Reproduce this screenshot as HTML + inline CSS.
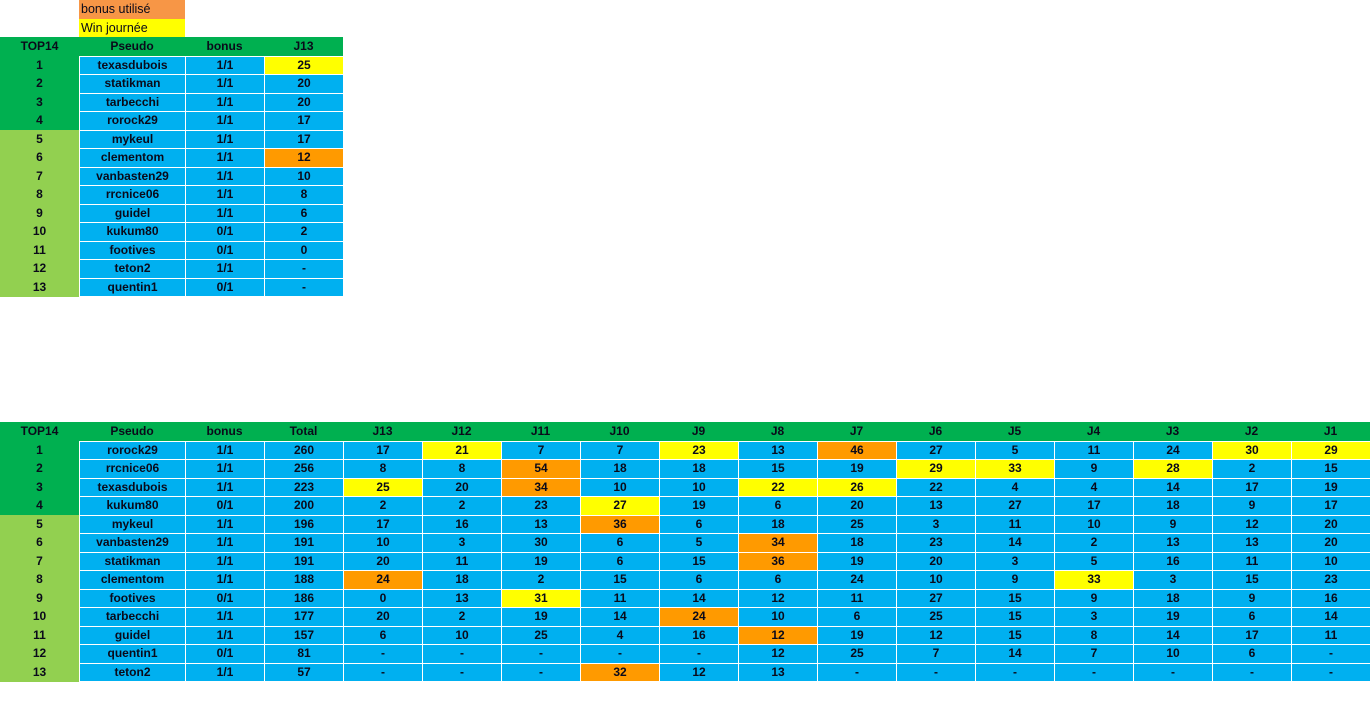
<!DOCTYPE html>
<html><head><meta charset="utf-8"><style>
html,body{margin:0;padding:0;background:#fff;width:1372px;height:707px;overflow:hidden}
#root{position:relative;width:1372px;height:707px}
.c{position:absolute;box-sizing:border-box;font-family:"Liberation Sans",sans-serif;font-weight:bold;font-size:12px;color:#0a0a1a;text-align:center;white-space:nowrap;overflow:hidden}
.leg{font-weight:normal;text-align:left;padding-left:2px;font-size:12.5px}
</style></head><body><div id="root"></div>
<script>
const legendLabels=["bonus utilisé","Win journée"];
const topHeaders=["TOP14","Pseudo","bonus","J13"];
const topPseudos=["texasdubois","statikman","tarbecchi","rorock29","mykeul","clementom","vanbasten29","rrcnice06","guidel","kukum80","footives","teton2","quentin1"];
const topBonus=["1/1","1/1","1/1","1/1","1/1","1/1","1/1","1/1","1/1","0/1","0/1","1/1","0/1"];
const topScores=["25y","20","20","17","17","12o","10","8","6","2","0","-","-"];
const bottomHeaders=["TOP14","Pseudo","bonus","Total","J13","J12","J11","J10","J9","J8","J7","J6","J5","J4","J3","J2","J1"];
const botPseudos=["rorock29","rrcnice06","texasdubois","kukum80","mykeul","vanbasten29","statikman","clementom","footives","tarbecchi","guidel","quentin1","teton2"];
const botBonus=["1/1","1/1","1/1","0/1","1/1","1/1","1/1","1/1","0/1","1/1","1/1","0/1","1/1"];
const botTotals=[260,256,223,200,196,191,191,188,186,177,157,81,57];
const botScores=[
["17","21y","7","7","23y","13","46o","27","5","11","24","30y","29y"],
["8","8","54o","18","18","15","19","29y","33y","9","28y","2","15"],
["25y","20","34o","10","10","22y","26y","22","4","4","14","17","19"],
["2","2","23","27y","19","6","20","13","27","17","18","9","17"],
["17","16","13","36o","6","18","25","3","11","10","9","12","20"],
["10","3","30","6","5","34o","18","23","14","2","13","13","20"],
["20","11","19","6","15","36o","19","20","3","5","16","11","10"],
["24o","18","2","15","6","6","24","10","9","33y","3","15","23"],
["0","13","31y","11","14","12","11","27","15","9","18","9","16"],
["20","2","19","14","24o","10","6","25","15","3","19","6","14"],
["6","10","25","4","16","12o","19","12","15","8","14","17","11"],
["-","-","-","-","-","12","25","7","14","7","10","6","-"],
["-","-","-","32o","12","13","-","-","-","-","-","-","-"]];
const root=document.getElementById('root');
const DG="#00B050",LG="#92D050",BL="#00B0F0",YE="#FFFF00",OR="#FF9A00";
const colX=[0,79,185,264,343];
for(let i=1;i<=13;i++)colX.push(343+i*(1370-343)/13);
const RH=18.5;
function cell(x,y,w,h,bg,txt,name,cls){
  const d=document.createElement('div');
  d.className='c'+(cls?' '+cls:'');
  d.style.left=x+'px';d.style.top=y+'px';d.style.width=w+'px';d.style.height=h+'px';
  d.style.lineHeight=h+'px';d.style.background=bg;d.textContent=txt;
  
  
  root.appendChild(d);return d;
}
function parse(v){let bg=BL,t=v;if(v.endsWith('y')){bg=YE;t=v.slice(0,-1);}else if(v.endsWith('o')){bg=OR;t=v.slice(0,-1);}return [t,bg];}
// legend
cell(79,0,106,18.5,"#F79646",legendLabels[0],'legend-bonus-used','leg');
cell(79,18.5,106,18.5,YE,legendLabels[1],'legend-day-win','leg');
function table(y0,headers,pseudos,bonus,extra,prefix){
  const ncol=headers.length;
  cell(0,y0,colX[ncol],RH,DG,'','header-bg');
  headers.forEach((h,i)=>{cell(colX[i],y0,colX[i+1]-colX[i],RH,'transparent',h,prefix+'-header-'+h.toLowerCase());});
  pseudos.forEach((p,r)=>{
    const y=y0+RH*(r+1);
    cell(0,y,79,RH+0.5,r<4?DG:LG,String(r+1),prefix+'-rank-'+(r+1));
    const vals=[p,bonus[r]].concat(extra(r));
    vals.forEach((v,k)=>{
      const [t,bg]=k<2?[v,BL]:parse(String(v));
      const x=colX[k+1],w=colX[k+2]-x;
      cell(x+1,y+1,w-1,RH-1,bg,t,prefix+'-cell-'+headers[k+1].toLowerCase()+'-row'+(r+1));
    });
  });
}
table(37,topHeaders,topPseudos,topBonus,r=>[topScores[r]],'top');
table(422,bottomHeaders,botPseudos,botBonus,r=>[String(botTotals[r])].concat(botScores[r]),'full');
</script></body></html>
